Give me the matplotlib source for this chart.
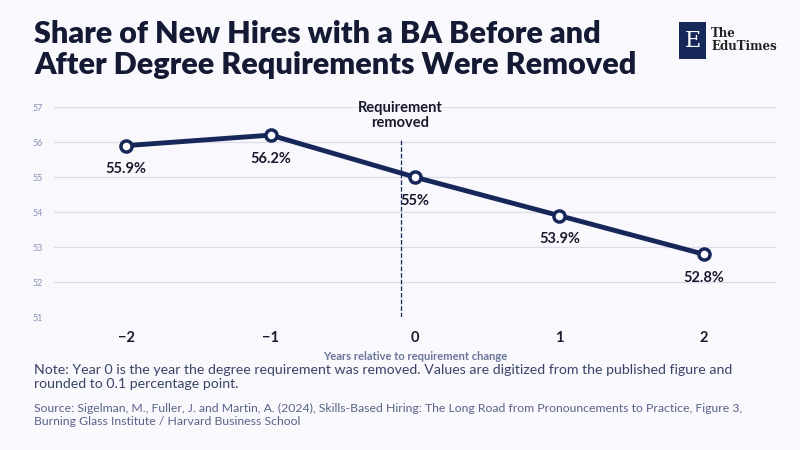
import matplotlib.pyplot as plt

years = [-2, -1, 0, 1, 2]
share = [55.9, 56.2, 55.0, 53.9, 52.8]
labels = ['55.9%', '56.2%', '55%', '53.9%', '52.8%']
yticks = [51, 52, 53, 54, 55, 56, 57]
xtick_labels = ['\u22122', '\u22121', '0', '1', '2']

bg = '#f8f8fd'
navy = '#16275a'
plt.rcParams['font.family'] = ['Lato', 'DejaVu Sans']

fig = plt.figure(figsize=(8, 4.5), dpi=100, facecolor=bg)
ax = fig.add_axes([0.0675, 0.295, 0.9025, 0.467], facecolor=bg)

ax.plot(years, share, color=navy, lw=3.5, marker='o', ms=8,
        mfc='white', mec=navy, mew=2.5, zorder=3)
for x, y, t in zip(years, share, labels):
    ax.annotate(t, (x, y), xytext=(0, -12), textcoords='offset points',
                ha='center', va='top', fontsize=10.5, fontweight='bold', color='#1a1a2e')

ax.plot([-0.1, -0.1], [51, 56.1], ls='--', lw=0.9, color=navy, zorder=2)
ax.text(-0.1, 56.35, 'Requirement\nremoved', ha='center', va='bottom',
        fontsize=10.5, fontweight='bold', color='#1a1a2e', linespacing=1.1)

ax.set_xlim(-2.5, 2.5)
ax.set_ylim(51, 57)
ax.set_yticks(yticks)
ax.set_xticks(years)
ax.set_xticklabels(xtick_labels, fontsize=10.5, fontweight='bold', color='#1a1a2e')
ax.tick_params(axis='y', labelsize=6.5, labelcolor='#8a93b8', length=0, pad=8)
ax.tick_params(axis='x', length=0, pad=10)
ax.grid(axis='y', color='#dcdde6', lw=0.9)
ax.set_axisbelow(True)
for s in ax.spines.values():
    s.set_visible(False)
ax.set_xlabel('Years relative to requirement change', fontsize=8,
              fontweight='bold', color='#6b7599', labelpad=4)

fig.text(0.043, 0.955, 'Share of New Hires with a BA Before and\nAfter Degree Requirements Were Removed',
         ha='left', va='top', fontsize=22, fontweight='heavy', color='#141a33', linespacing=1.12)

# logo
fig.patches.append(plt.Rectangle((0.849, 0.87), 0.034, 0.082, transform=fig.transFigure,
                                 facecolor=navy, edgecolor='none'))
fig.text(0.866, 0.908, 'E', ha='center', va='center', fontsize=16, color='white', family='DejaVu Serif')
fig.text(0.889, 0.911, 'The\nEduTimes', ha='left', va='center', fontsize=8.5,
         color='#222222', family='DejaVu Serif', fontweight='bold', linespacing=1.0)

fig.text(0.043, 0.19, 'Note: Year 0 is the year the degree requirement was removed. Values are digitized from the published figure and\nrounded to 0.1 percentage point.',
         ha='left', va='top', fontsize=10.2, color='#3a4466', linespacing=1.15)
fig.text(0.043, 0.105, 'Source: Sigelman, M., Fuller, J. and Martin, A. (2024), Skills-Based Hiring: The Long Road from Pronouncements to Practice, Figure 3,\nBurning Glass Institute / Harvard Business School',
         ha='left', va='top', fontsize=8.8, color='#5a6488', linespacing=1.2)

fig.savefig('out.png', dpi=100, facecolor=bg)
